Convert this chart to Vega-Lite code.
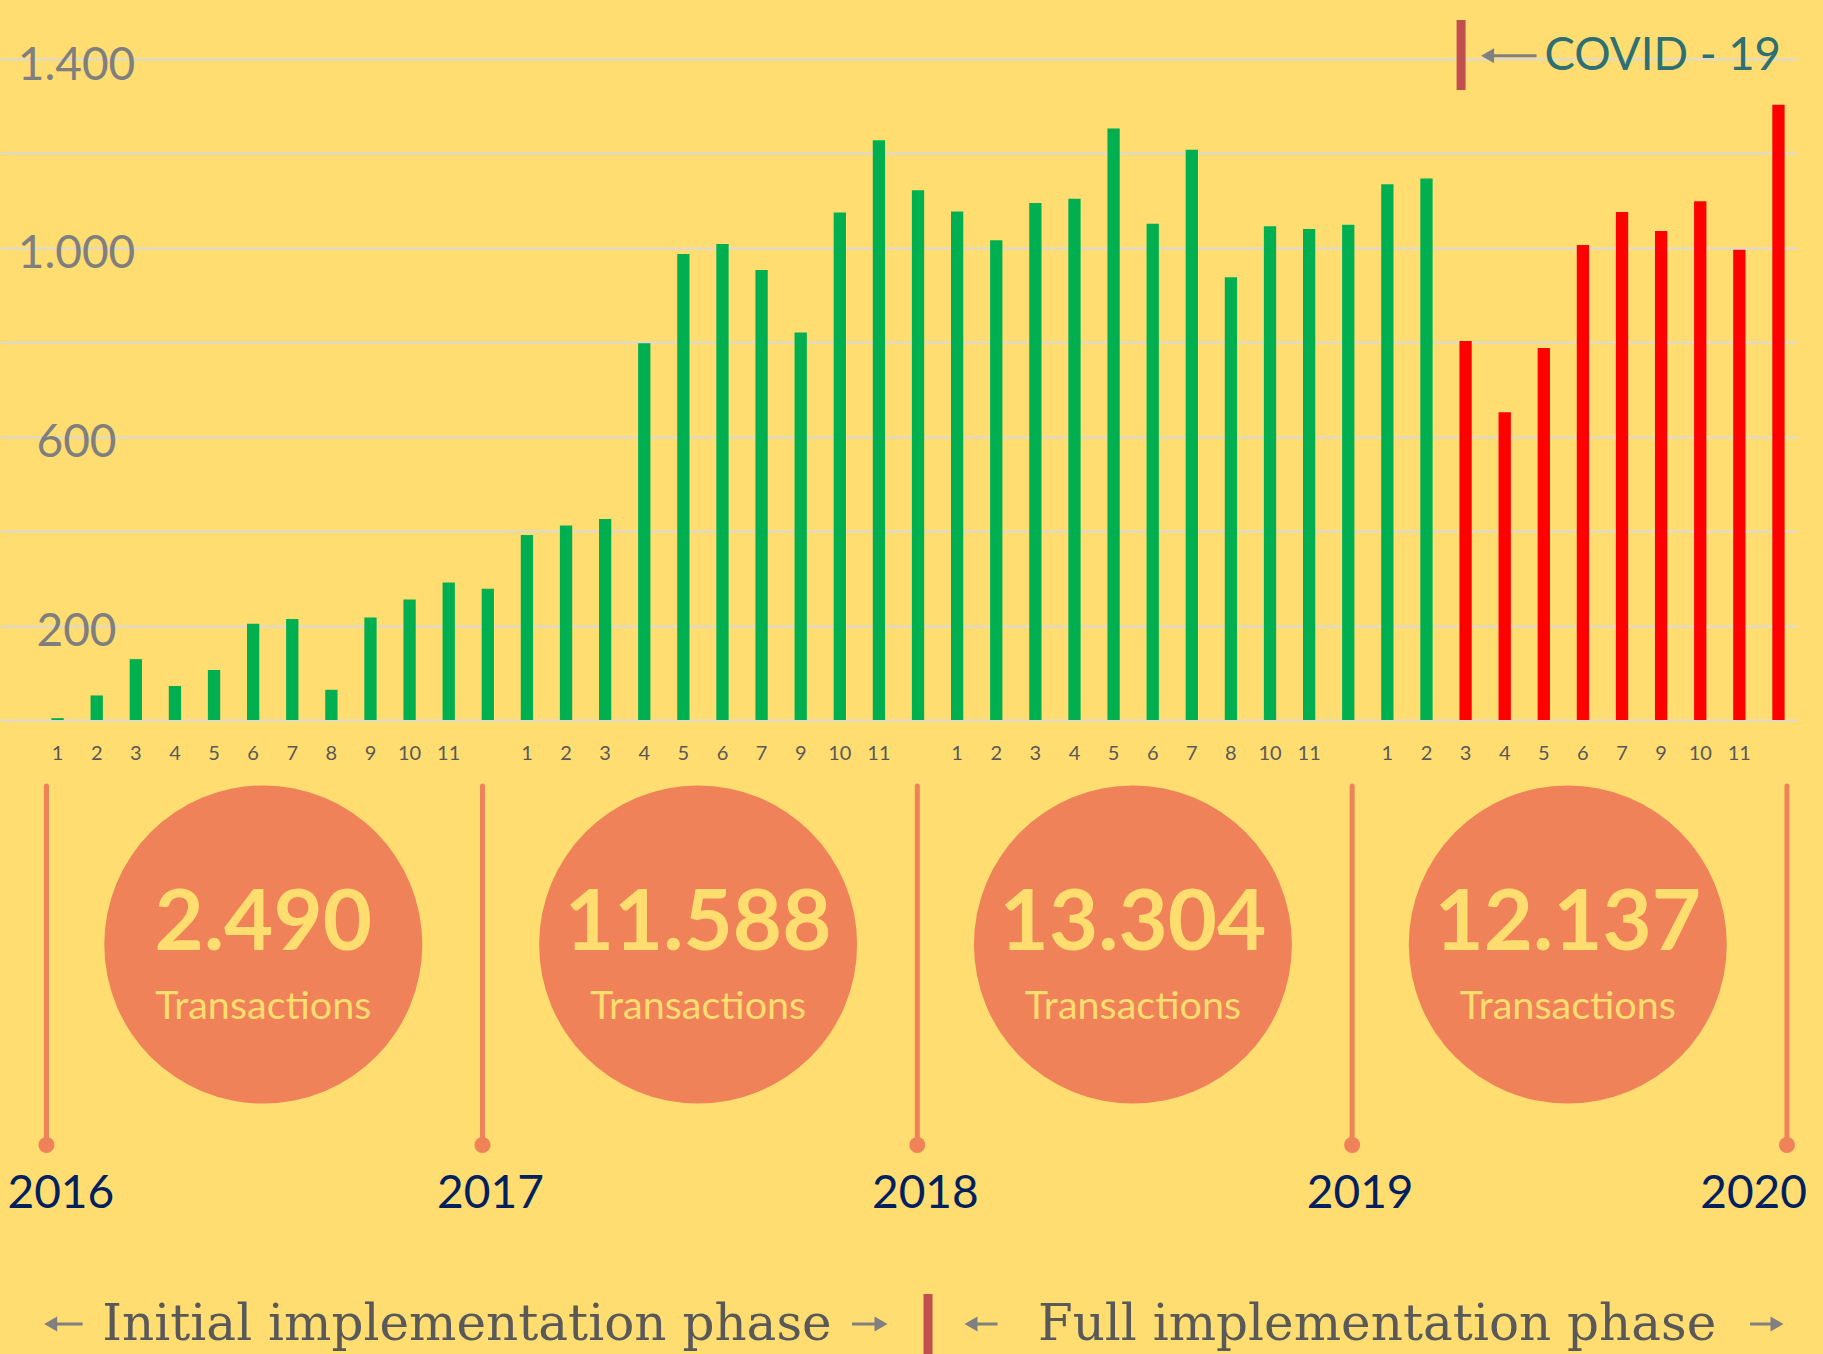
{
  "$schema": "https://vega.github.io/schema/vega-lite/v6.json",
  "width": 1797,
  "height": 1354,
  "autosize": {"type": "none"},
  "padding": {"left": 0, "top": 0, "right": 26, "bottom": 0},
  "background": "#FFDD71",
  "config": {
    "view": {"stroke": null},
    "font": "Lato",
    "locale": {"number": {"decimal": ",", "thousands": ".", "grouping": [3], "currency": ["", " €"]}}
  },
  "datasets": {
    "months": [
      {"key": "2016-01", "month": 1, "value": 4, "period": "Before COVID-19"},
      {"key": "2016-02", "month": 2, "value": 52, "period": "Before COVID-19"},
      {"key": "2016-03", "month": 3, "value": 129, "period": "Before COVID-19"},
      {"key": "2016-04", "month": 4, "value": 72, "period": "Before COVID-19"},
      {"key": "2016-05", "month": 5, "value": 106, "period": "Before COVID-19"},
      {"key": "2016-06", "month": 6, "value": 204, "period": "Before COVID-19"},
      {"key": "2016-07", "month": 7, "value": 214, "period": "Before COVID-19"},
      {"key": "2016-08", "month": 8, "value": 64, "period": "Before COVID-19"},
      {"key": "2016-09", "month": 9, "value": 217, "period": "Before COVID-19"},
      {"key": "2016-10", "month": 10, "value": 255, "period": "Before COVID-19"},
      {"key": "2016-11", "month": 11, "value": 291, "period": "Before COVID-19"},
      {"key": "2016-12", "month": 12, "value": 278, "period": "Before COVID-19"},
      {"key": "2017-01", "month": 1, "value": 392, "period": "Before COVID-19"},
      {"key": "2017-02", "month": 2, "value": 412, "period": "Before COVID-19"},
      {"key": "2017-03", "month": 3, "value": 426, "period": "Before COVID-19"},
      {"key": "2017-04", "month": 4, "value": 798, "period": "Before COVID-19"},
      {"key": "2017-05", "month": 5, "value": 987, "period": "Before COVID-19"},
      {"key": "2017-06", "month": 6, "value": 1008, "period": "Before COVID-19"},
      {"key": "2017-07", "month": 7, "value": 953, "period": "Before COVID-19"},
      {"key": "2017-09", "month": 9, "value": 821, "period": "Before COVID-19"},
      {"key": "2017-10", "month": 10, "value": 1075, "period": "Before COVID-19"},
      {"key": "2017-11", "month": 11, "value": 1228, "period": "Before COVID-19"},
      {"key": "2017-12", "month": 12, "value": 1122, "period": "Before COVID-19"},
      {"key": "2018-01", "month": 1, "value": 1077, "period": "Before COVID-19"},
      {"key": "2018-02", "month": 2, "value": 1016, "period": "Before COVID-19"},
      {"key": "2018-03", "month": 3, "value": 1095, "period": "Before COVID-19"},
      {"key": "2018-04", "month": 4, "value": 1104, "period": "Before COVID-19"},
      {"key": "2018-05", "month": 5, "value": 1253, "period": "Before COVID-19"},
      {"key": "2018-06", "month": 6, "value": 1051, "period": "Before COVID-19"},
      {"key": "2018-07", "month": 7, "value": 1208, "period": "Before COVID-19"},
      {"key": "2018-08", "month": 8, "value": 938, "period": "Before COVID-19"},
      {"key": "2018-10", "month": 10, "value": 1046, "period": "Before COVID-19"},
      {"key": "2018-11", "month": 11, "value": 1040, "period": "Before COVID-19"},
      {"key": "2018-12", "month": 12, "value": 1049, "period": "Before COVID-19"},
      {"key": "2019-01", "month": 1, "value": 1135, "period": "Before COVID-19"},
      {"key": "2019-02", "month": 2, "value": 1147, "period": "Before COVID-19"},
      {"key": "2019-03", "month": 3, "value": 803, "period": "COVID-19"},
      {"key": "2019-04", "month": 4, "value": 652, "period": "COVID-19"},
      {"key": "2019-05", "month": 5, "value": 788, "period": "COVID-19"},
      {"key": "2019-06", "month": 6, "value": 1006, "period": "COVID-19"},
      {"key": "2019-07", "month": 7, "value": 1076, "period": "COVID-19"},
      {"key": "2019-09", "month": 9, "value": 1036, "period": "COVID-19"},
      {"key": "2019-10", "month": 10, "value": 1099, "period": "COVID-19"},
      {"key": "2019-11", "month": 11, "value": 996, "period": "COVID-19"},
      {"key": "2019-12", "month": 12, "value": 1303, "period": "COVID-19"}
    ],
    "years": [
      {"year": "2016", "start": "2016-01-01"},
      {"year": "2017", "start": "2017-01-01"},
      {"year": "2018", "start": "2018-01-01"},
      {"year": "2019", "start": "2019-01-01"},
      {"year": "2020", "start": "2020-01-01"}
    ],
    "totals": [
      {"year": "2016", "mid": "2016-07-01", "total": 2490},
      {"year": "2017", "mid": "2017-07-01", "total": 11588},
      {"year": "2018", "mid": "2018-07-01", "total": 13304},
      {"year": "2019", "mid": "2019-07-01", "total": 12137}
    ]
  },
  "layer": [
    {
      "layer": [
        {
          "data": {"name": "months"},
          "mark": {"type": "bar"},
          "encoding": {
            "x": {"field": "key", "type": "nominal", "sort": null, "axis": null,
                  "scale": {"paddingInner": 0.6855, "paddingOuter": 0.816, "align": 0.806}},
            "y": {"field": "value", "type": "quantitative",
                  "scale": {"domain": [-1342.8, 1525], "nice": false, "zero": false},
                  "axis": {"title": null, "values": [0, 200, 400, 600, 800, 1000, 1200, 1400], "format": ",d",
                           "labelExpr": "indexof([200,600,1000,1400], datum.value) >= 0 ? datum.label : ''",
                           "grid": true, "gridColor": "#D9D9D9", "gridWidth": 2, "domain": false, "ticks": false,
                           "tickSize": 0, "labelPadding": -76, "labelAlign": "center", "labelBaseline": "middle",
                           "labelOffset": 6,
                           "labelFont": "Lato", "labelFontSize": 46, "labelColor": "#7F7F7F", "labelOverlap": false}},
            "color": {"field": "period", "type": "nominal", "legend": null,
                      "scale": {"domain": ["Before COVID-19", "COVID-19"], "range": ["#00B050", "#FF0000"]}}
          }
        },
        {
          "data": {"name": "months"},
          "mark": {"type": "text", "font": "Lato", "fontSize": 20, "color": "#595959", "baseline": "alphabetic", "align": "center"},
          "encoding": {
            "x": {"field": "key", "type": "nominal", "sort": null, "axis": null},
            "y": {"datum": -84.7},
            "text": {"field": "month", "type": "nominal", "condition": {"test": "datum.month === 12", "value": ""}}
          }
        },
        {
          "data": {"values": [{}]},
          "mark": {"type": "rule", "color": "#C0504D", "strokeWidth": 9, "xOffset": -4.5},
          "encoding": {
            "x": {"datum": "2019-03", "type": "nominal", "axis": null},
            "y": {"datum": 1482.6},
            "y2": {"datum": 1334.3}
          }
        },
        {
          "data": {"values": [{}]},
          "mark": {"type": "rule", "color": "#808080", "strokeWidth": 3, "xOffset": 25, "x2Offset": 71},
          "encoding": {
            "x": {"datum": "2019-03", "type": "nominal", "axis": null},
            "x2": {"datum": "2019-03"},
            "y": {"datum": 1407}
          }
        },
        {
          "data": {"values": [{}]},
          "mark": {"type": "point", "shape": "triangle-left", "size": 225, "filled": true, "opacity": 1, "color": "#808080", "xOffset": 22},
          "encoding": {
            "x": {"datum": "2019-03", "type": "nominal", "axis": null},
            "y": {"datum": 1407}
          }
        },
        {
          "data": {"values": [{}]},
          "mark": {"type": "text", "font": "Lato", "fontSize": 45.5, "color": "#2E6F73", "align": "left", "baseline": "alphabetic", "dx": 79},
          "encoding": {
            "x": {"datum": "2019-03", "type": "nominal", "axis": null},
            "y": {"datum": 1376.7},
            "text": {"value": "COVID - 19"}
          }
        }
      ]
    },
    {
      "layer": [
        {
          "data": {"name": "years"},
          "mark": {"type": "rule", "color": "#F0825A", "strokeWidth": 5, "strokeCap": "round"},
          "encoding": {
            "x": {"field": "start", "type": "temporal", "axis": null,
                  "scale": {"domain": [{"year": 2015, "month": 11, "date": 23}, {"year": 2020, "month": 1, "date": 9, "hours": 10}], "nice": false}},
            "y": {"datum": -139.8},
            "y2": {"datum": -900.2}
          }
        },
        {
          "data": {"name": "years"},
          "mark": {"type": "point", "shape": "circle", "filled": true, "opacity": 1, "size": 256, "color": "#F0825A"},
          "encoding": {
            "x": {"field": "start", "type": "temporal", "axis": null},
            "y": {"datum": -900.2}
          }
        },
        {
          "data": {"name": "totals"},
          "mark": {"type": "point", "shape": "circle", "filled": true, "opacity": 1, "size": 101124, "color": "#F0825A"},
          "encoding": {
            "x": {"field": "mid", "type": "temporal", "axis": null},
            "y": {"datum": -475.5}
          }
        },
        {
          "data": {"name": "totals"},
          "mark": {"type": "text", "font": "Lato", "fontWeight": "bold", "fontSize": 85, "color": "#FFDD6E", "align": "center", "baseline": "alphabetic"},
          "encoding": {
            "x": {"field": "mid", "type": "temporal", "axis": null},
            "y": {"datum": -487.1},
            "text": {"field": "total", "type": "quantitative", "format": ",d"}
          }
        },
        {
          "data": {"name": "totals"},
          "mark": {"type": "text", "font": "Lato", "fontSize": 39.5, "color": "#FFDD6E", "align": "center", "baseline": "alphabetic"},
          "encoding": {
            "x": {"field": "mid", "type": "temporal", "axis": null},
            "y": {"datum": -633.0},
            "text": {"value": "Transactions"}
          }
        },
        {
          "data": {"name": "years"},
          "transform": [{"filter": "datum.year === '2016'"}],
          "mark": {"type": "text", "font": "Lato", "fontSize": 46, "color": "#002060", "align": "left", "baseline": "alphabetic", "dx": -39},
          "encoding": {
            "x": {"field": "start", "type": "temporal", "axis": null},
            "y": {"datum": -1033.6},
            "text": {"field": "year", "type": "nominal"}
          }
        },
        {
          "data": {"name": "years"},
          "transform": [{"filter": "datum.year !== '2016' && datum.year !== '2020'"}],
          "mark": {"type": "text", "font": "Lato", "fontSize": 46, "color": "#002060", "align": "center", "baseline": "alphabetic", "dx": 8},
          "encoding": {
            "x": {"field": "start", "type": "temporal", "axis": null},
            "y": {"datum": -1033.6},
            "text": {"field": "year", "type": "nominal"}
          }
        },
        {
          "data": {"name": "years"},
          "transform": [{"filter": "datum.year === '2020'"}],
          "mark": {"type": "text", "font": "Lato", "fontSize": 46, "color": "#002060", "align": "right", "baseline": "alphabetic", "dx": 20},
          "encoding": {
            "x": {"field": "start", "type": "temporal", "axis": null},
            "y": {"datum": -1033.6},
            "text": {"field": "year", "type": "nominal"}
          }
        },
        {
          "data": {"values": [{}]},
          "mark": {"type": "rule", "color": "#C0504D", "strokeWidth": 9, "xOffset": 10.7},
          "encoding": {
            "x": {"datum": {"year": 2018, "month": 1, "date": 1}, "type": "temporal", "axis": null},
            "y": {"datum": -1215.7},
            "y2": {"datum": -1342.8}
          }
        },
        {
          "data": {"values": [{}]},
          "mark": {"type": "text", "font": "DejaVu Serif", "fontSize": 50, "color": "#595959", "align": "center", "baseline": "alphabetic", "dx": -15.5},
          "encoding": {
            "x": {"datum": {"year": 2017, "month": 1, "date": 1}, "type": "temporal", "axis": null},
            "y": {"datum": -1313.2},
            "text": {"value": "Initial implementation phase"}
          }
        },
        {
          "data": {"values": [{}]},
          "mark": {"type": "text", "font": "DejaVu Serif", "fontSize": 50, "color": "#595959", "align": "center", "baseline": "alphabetic", "dx": 25},
          "encoding": {
            "x": {"datum": {"year": 2019, "month": 1, "date": 1}, "type": "temporal", "axis": null},
            "y": {"datum": -1313.2},
            "text": {"value": "Full implementation phase"}
          }
        },
        {
          "data": {"values": [{}]},
          "mark": {"type": "rule", "color": "#808080", "strokeWidth": 3, "xOffset": 8.5, "x2Offset": 36.2},
          "encoding": {
            "x": {"datum": {"year": 2016, "month": 1, "date": 1}, "type": "temporal", "axis": null},
            "x2": {"datum": {"year": 2016, "month": 1, "date": 1}},
            "y": {"datum": -1279.3}
          }
        },
        {
          "data": {"values": [{}]},
          "mark": {"type": "point", "shape": "triangle-left", "size": 225, "filled": true, "opacity": 1, "color": "#808080", "xOffset": 4.2},
          "encoding": {
            "x": {"datum": {"year": 2016, "month": 1, "date": 1}, "type": "temporal", "axis": null},
            "y": {"datum": -1279.3}
          }
        },
        {
          "data": {"values": [{}]},
          "mark": {"type": "rule", "color": "#808080", "strokeWidth": 3, "xOffset": -65.3, "x2Offset": -41.3},
          "encoding": {
            "x": {"datum": {"year": 2018, "month": 1, "date": 1}, "type": "temporal", "axis": null},
            "x2": {"datum": {"year": 2018, "month": 1, "date": 1}},
            "y": {"datum": -1279.3}
          }
        },
        {
          "data": {"values": [{}]},
          "mark": {"type": "point", "shape": "triangle-right", "size": 225, "filled": true, "opacity": 1, "color": "#808080", "xOffset": -36.3},
          "encoding": {
            "x": {"datum": {"year": 2018, "month": 1, "date": 1}, "type": "temporal", "axis": null},
            "y": {"datum": -1279.3}
          }
        },
        {
          "data": {"values": [{}]},
          "mark": {"type": "rule", "color": "#808080", "strokeWidth": 3, "xOffset": 57.7, "x2Offset": 80.2},
          "encoding": {
            "x": {"datum": {"year": 2018, "month": 1, "date": 1}, "type": "temporal", "axis": null},
            "x2": {"datum": {"year": 2018, "month": 1, "date": 1}},
            "y": {"datum": -1279.3}
          }
        },
        {
          "data": {"values": [{}]},
          "mark": {"type": "point", "shape": "triangle-left", "size": 225, "filled": true, "opacity": 1, "color": "#808080", "xOffset": 53.7},
          "encoding": {
            "x": {"datum": {"year": 2018, "month": 1, "date": 1}, "type": "temporal", "axis": null},
            "y": {"datum": -1279.3}
          }
        },
        {
          "data": {"values": [{}]},
          "mark": {"type": "rule", "color": "#808080", "strokeWidth": 3, "xOffset": -37, "x2Offset": -14},
          "encoding": {
            "x": {"datum": {"year": 2020, "month": 1, "date": 1}, "type": "temporal", "axis": null},
            "x2": {"datum": {"year": 2020, "month": 1, "date": 1}},
            "y": {"datum": -1279.3}
          }
        },
        {
          "data": {"values": [{}]},
          "mark": {"type": "point", "shape": "triangle-right", "size": 225, "filled": true, "opacity": 1, "color": "#808080", "xOffset": -10},
          "encoding": {
            "x": {"datum": {"year": 2020, "month": 1, "date": 1}, "type": "temporal", "axis": null},
            "y": {"datum": -1279.3}
          }
        }
      ]
    }
  ],
  "resolve": {"scale": {"x": "independent"}}
}
